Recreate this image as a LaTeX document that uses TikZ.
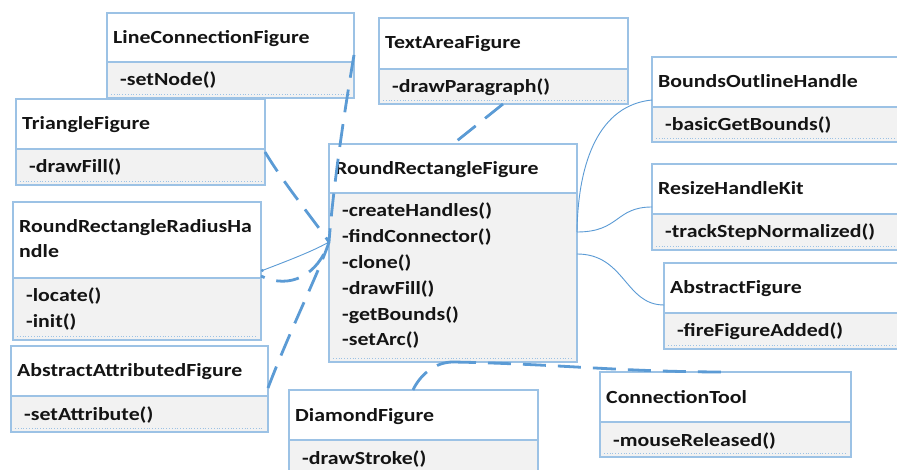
\documentclass[tikz,border=0pt]{standalone}
\usepackage{fontspec}
\setmainfont{Carlito}[FakeStretch=1.18]
\usetikzlibrary{arrows.meta}
\definecolor{framec}{HTML}{9CC2E5}
\definecolor{methfill}{HTML}{F2F2F2}
\definecolor{connc}{HTML}{5B9BD5}
\tikzset{
  frame/.style={draw=framec, line width=1.1pt},
  dotline/.style={draw=framec, line width=0.8pt, dotted},
  titletext/.style={inner sep=0pt, font={\fontsize{18.5}{25}\selectfont\bfseries}, text=black!92},
  methtext/.style={inner sep=0pt, font={\fontsize{18.5}{25.8}\selectfont\bfseries}, text=black!92},
  dashconn/.style={draw=connc, line width=2.8pt, dash pattern=on 23pt off 12pt},
  thinconn/.style={draw=connc, line width=0.9pt},
}
% #1 name, #2 x1, #3 y1, #4 x2, #5 y2, #6 ydiv, #7 title, #8 methods
\newcommand\umlclass[8]{%
  \fill[white] (#2,#3) rectangle (#4,#6);
  \fill[methfill] (#2,#6) rectangle (#4,#5);
  \draw[dotline] ({#2+4},{#5-3.5}) -- ({#4-4},{#5-3.5});
  \draw[frame] (#2,#6) -- (#4,#6);
  \node[frame, minimum width={(#4-#2)*1pt}, minimum height={(#5-#3)*1pt}, anchor=north west, inner sep=0pt, outer sep=0pt] (#1) at (#2,#3) {};
  \node[titletext, anchor=base west] (#1-title) at ({#2+6},{#3+31}) {\begin{tabular}[t]{@{}l@{}}#7\end{tabular}};
  \node[methtext, anchor=base west] (#1-meth) at ({#2+13},{#6+24}) {\begin{tabular}[t]{@{}l@{}}#8\end{tabular}};
}
\begin{document}
\begin{tikzpicture}[x=1pt, y=-1pt]
\useasboundingbox (0,0) rectangle (897,470);
\clip (0,0) rectangle (897,470);
\fill[white] (0,0) rectangle (897,470);

\umlclass{lcf}{107}{13}{354}{98}{62}{LineConnectionFigure}{-setNode()}
\umlclass{ta}{379}{18}{628}{104}{69}{TextAreaFigure}{-drawParagraph()}
\umlclass{tri}{16}{99}{265}{185}{149}{TriangleFigure}{-drawFill()}
\umlclass{rrrh}{13}{202}{261}{340}{278}{RoundRectangleRadiusHa\\ndle}{-locate()\\-init()}
\umlclass{aaf}{11}{346}{268}{432}{396}{AbstractAttributedFigure}{-setAttribute()}
\umlclass{rrf}{329}{144}{577}{362}{193}{RoundRectangleFigure}{-createHandles()\\-findConnector()\\-clone()\\-drawFill()\\-getBounds()\\-setArc()}
\umlclass{boh}{652}{57}{910}{142}{107}{BoundsOutlineHandle}{-basicGetBounds()}
\umlclass{rhk}{652}{164}{910}{250}{214}{ResizeHandleKit}{-trackStepNormalized()}
\umlclass{af}{664}{263}{910}{349}{313}{AbstractFigure}{-fireFigureAdded()}
\umlclass{dia}{289}{390}{538}{480}{440}{DiamondFigure}{-drawStroke()}
\umlclass{ct}{600}{372}{851}{457}{422}{ConnectionTool}{-mouseReleased()}

\coordinate (hub) at ([yshift=-98pt]rrf.north west);
\coordinate (rrfR) at ([yshift=-88pt]rrf.north east);
\coordinate (rrfB) at ([xshift=124pt]rrf.south west);

% left side connectors
\draw[dashconn] ([yshift=-42pt]lcf.north east) .. controls (343,120) and (333,190) .. (hub);
\draw[dashconn] ([yshift=-53pt]tri.north east) .. controls (285,185) and (310,215) .. (hub);
\draw[thinconn, {Circle[length=3pt]}-] ([yshift=-69pt]rrrh.north east) .. controls (295,258) and (315,250) .. (hub);
\draw[dashconn, dash phase=-16pt] ([yshift=-74pt]rrrh.north east) .. controls (290,290) and (318,275) .. (hub);
\draw[dashconn] ([yshift=-42pt]aaf.north east) .. controls (290,330) and (320,270) .. (hub);
% top
\draw[dashconn] ([xshift=124pt]ta.south west) -- ([xshift=124pt]rrf.north west);
% right side
\draw[thinconn] ([yshift=-43pt]boh.north west) .. controls (600,105) and (578,160) .. (rrfR);
\draw[thinconn] ([yshift=-43pt]rhk.north west) .. controls (615,207) and (620,232) .. (rrfR);
\draw[thinconn] ([yshift=-42pt]af.north west) .. controls (625,305) and (625,254) .. ([yshift=-110pt]rrf.north east);
% bottom
\draw[dashconn] ([xshift=124pt]dia.north west) .. controls (420,375) and (435,362) .. (rrfB);
\draw[dashconn] (rrfB) .. controls (560,364) and (620,372) .. ([xshift=127pt]ct.north west);
\end{tikzpicture}
\end{document}
